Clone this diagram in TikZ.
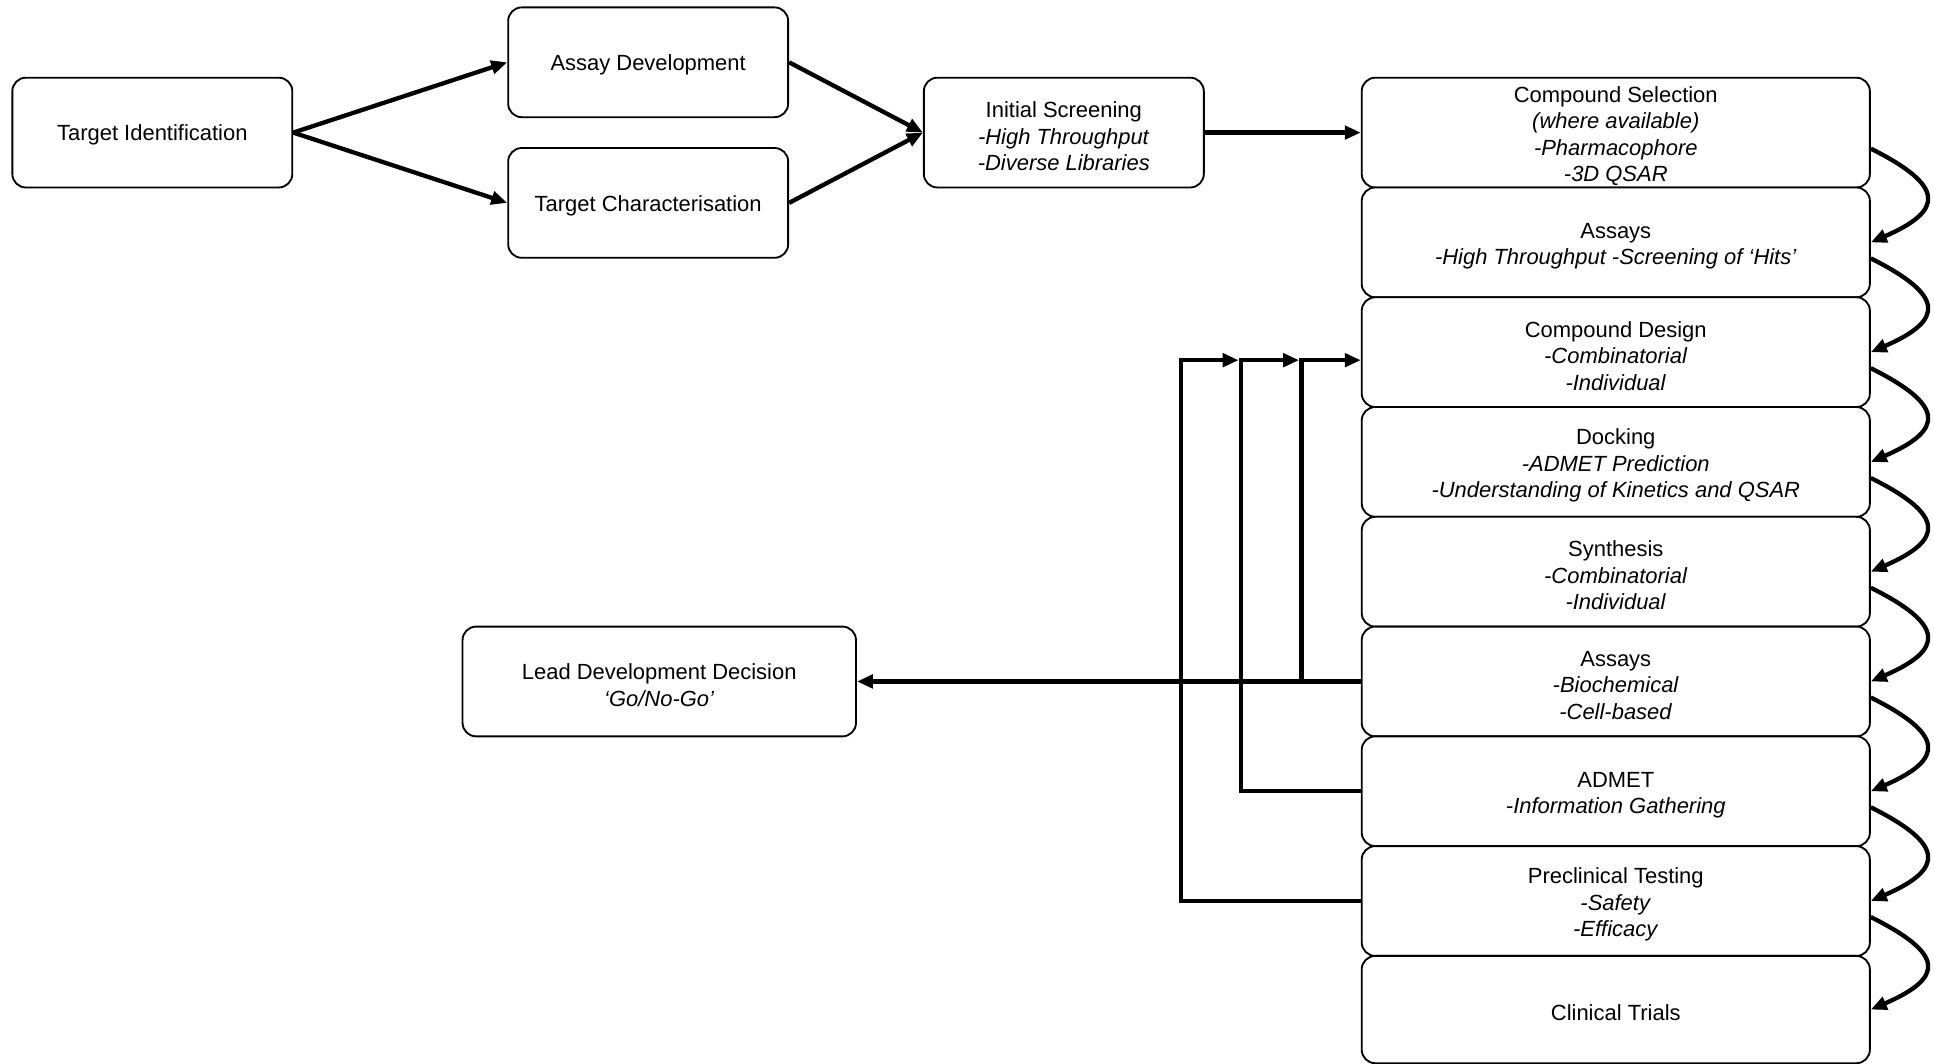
\documentclass[tikz,border=0pt]{standalone}
\usepackage{fontspec}
\setmainfont{Liberation Sans}
\usetikzlibrary{arrows.meta,calc}
\newcommand{\fstrut}{\rule{0pt}{9.4pt}}
\begin{document}
\begin{tikzpicture}[x=0.5pt,y=-0.5pt,
  box/.style={draw=black, line width=0.75pt, rounded corners=5.5pt, fill=white, align=center,
    inner sep=0pt, minimum height=44.5pt, font=\fontsize{8.9}{10.7}\selectfont},
  small/.style={box, minimum width=113.5pt},
  wide/.style={box, minimum width=206pt},
  arr/.style={line width=1.75pt, -{Triangle[length=6.5pt,width=5.4pt]}}]
\useasboundingbox (0,0) rectangle (1568,862.6);

\node[small] (ti) at (123.5,107.5) {\rule{0pt}{8.6pt}Target Identification};
\node[small] (ad) at (525.5,50.5) {\rule{0pt}{8.6pt}Assay Development};
\node[small] (tc) at (525.5,164.5) {\rule{0pt}{8.6pt}Target Characterisation};
\node[small] (is) at (862.5,107.5) {\fstrut Initial Screening\\\textit{-High Throughput}\\\textit{-Diverse Libraries}};
\node[box, minimum width=159.5pt] (ld) at (534.5,552.5) {\fstrut Lead Development Decision\\\textit{‘Go/No-Go’}};

\node[wide] (r1) at (1310,107.5) {\fstrut Compound Selection\\\textit{(where available)}\\\textit{-Pharmacophore}\\\textit{-3D QSAR}};
\node[wide] (r2) at (1310,196.5) {\fstrut Assays\\\textit{-High Throughput -Screening of ‘Hits’}};
\node[wide] (r3) at (1310,285.5) {\fstrut Compound Design\\\textit{-Combinatorial}\\\textit{-Individual}};
\node[wide] (r4) at (1310,374.5) {\fstrut Docking\\\textit{-ADMET Prediction}\\\textit{-Understanding of Kinetics and QSAR}};
\node[wide] (r5) at (1310,463.5) {\fstrut Synthesis\\\textit{-Combinatorial}\\\textit{-Individual}};
\node[wide] (r6) at (1310,552.5) {\fstrut Assays\\\textit{-Biochemical}\\\textit{-Cell-based}};
\node[wide] (r7) at (1310,641.5) {\fstrut ADMET\\\textit{-Information Gathering}};
\node[wide] (r8) at (1310,730.5) {\fstrut Preclinical Testing\\\textit{-Safety}\\\textit{-Efficacy}};
\node[wide, minimum height=43.5pt] (r9) at (1310,818.5) {\rule{0pt}{8.6pt}Clinical Trials};

\draw[arr] (ti.east) -- (ad.west);
\draw[arr] (ti.east) -- (tc.west);
\draw[arr] (ad.east) -- (is.west);
\draw[arr] (tc.east) -- (is.west);
\draw[arr] (is.east) -- (r1.west);

\foreach \a/\b in {r1/r2,r2/r3,r3/r4,r4/r5,r5/r6,r6/r7,r7/r8,r8/r9}
  \draw[arr] ($(\a.east)+(0,13)$) .. controls +(60,30) and +(60,-26) .. (\b.east);

\coordinate (c3) at ($(r3.west)+(0,6.5)$);
\draw[arr] (r6.west) -- (ld.east);
\draw[arr] ($(r6.west)+(-48,0)$) |- (c3);
\draw[arr] (r7.west) -| ($(c3)+(-97,0)$) -- ($(c3)+(-50,0)$);
\draw[arr] (r8.west) -| ($(c3)+(-146,0)$) -- ($(c3)+(-99,0)$);
\end{tikzpicture}
\end{document}
